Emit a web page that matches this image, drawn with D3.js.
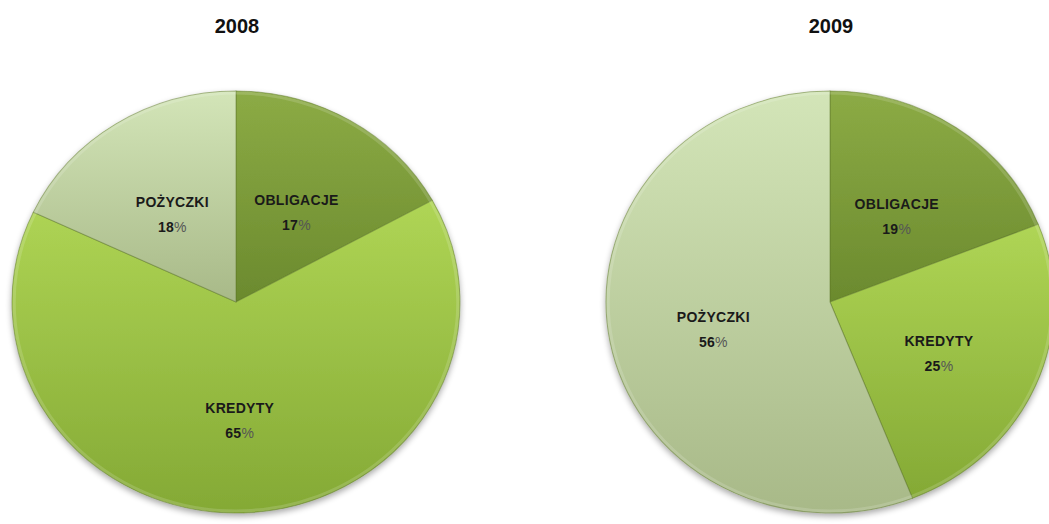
<!DOCTYPE html>
<html>
<head>
<meta charset="utf-8">
<script src="https://cdn.jsdelivr.net/npm/d3@7"></script>
<style>
  html, body { margin: 0; padding: 0; background: #fff; }
  svg { display: block; }
</style>
</head>
<body>
<script>
// Chart data.
const years = ["2008", "2009"];
const categories = ["OBLIGACJE", "KREDYTY", "POŻYCZKI"];
const shares2008 = [17, 65, 18];
const shares2009 = [19, 25, 56];
const sharesByYear = [shares2008, shares2009];

// Layout.
const width = 1049;
const height = 524;
const rx = 224; // pies are a touch wider than tall
const ry = 211;
const cy = 302;
const labelFrac = 0.53;

// Slice shading: [top, bottom] of each gradient.
const shades = {
  "OBLIGACJE": ["#8cab45", "#6b8a2e"],
  "KREDYTY": ["#afd555", "#84a935"],
  "POŻYCZKI": ["#d3e5b8", "#a8b988"],
};

const x = d3.scalePoint().domain(years).range([236, 830]);

const svg = d3.select("body").append("svg")
  .attr("width", width)
  .attr("height", height)
  .attr("font-family", "'Liberation Sans', Arial, sans-serif");

const defs = svg.append("defs");

categories.forEach((c, i) => {
  const g = defs.append("linearGradient")
    .attr("id", `grad-${i}`)
    .attr("x1", 0).attr("y1", 0).attr("x2", 0).attr("y2", 1);
  g.append("stop").attr("offset", "0%").attr("stop-color", shades[c][0]);
  g.append("stop").attr("offset", "100%").attr("stop-color", shades[c][1]);
});

// Soft shadow under the pies.
const shadow = defs.append("filter").attr("id", "shadow")
  .attr("x", "-10%").attr("y", "-10%").attr("width", "120%").attr("height", "125%");
shadow.append("feGaussianBlur").attr("in", "SourceAlpha").attr("stdDeviation", 3);
shadow.append("feOffset").attr("dy", 3).attr("result", "b");
shadow.append("feComponentTransfer").append("feFuncA").attr("type", "linear").attr("slope", 0.35);
const merge = shadow.append("feMerge");
merge.append("feMergeNode");
merge.append("feMergeNode").attr("in", "SourceGraphic");

const pie = d3.pie().sort(null).value((d) => d);
const arc = d3.arc().innerRadius(0).outerRadius(ry);
const labelArc = d3.arc().innerRadius(ry * labelFrac).outerRadius(ry * labelFrac);

years.forEach((year, yi) => {
  const cx = x(year);
  const arcs = pie(sharesByYear[yi]);

  // Title.
  svg.append("text")
    .attr("x", cx + 1)
    .attr("y", 33)
    .attr("text-anchor", "middle")
    .attr("font-size", 20)
    .attr("font-weight", "bold")
    .attr("fill", "#111")
    .text(year);

  // Slices (scaled horizontally to get the slight ellipse).
  const gPie = svg.append("g")
    .attr("transform", `translate(${cx},${cy}) scale(${rx / ry},1)`)
    .attr("filter", "url(#shadow)");

  gPie.selectAll("path")
    .data(arcs)
    .join("path")
    .attr("d", arc)
    .attr("fill", (d, i) => `url(#grad-${i})`)
    .attr("stroke", "#5f7a2c")
    .attr("stroke-opacity", 0.5)
    .attr("stroke-width", 1);

  // Light bevel along the outer rim.
  gPie.append("ellipse")
    .attr("rx", ry - 2).attr("ry", ry - 2)
    .attr("fill", "none")
    .attr("stroke", "#ffffff")
    .attr("stroke-opacity", 0.15)
    .attr("stroke-width", 3);

  // Labels.
  const gLabel = svg.append("g").attr("transform", `translate(${cx},${cy})`);
  const label = gLabel.selectAll("text")
    .data(arcs)
    .join("text")
    .attr("text-anchor", "middle")
    .attr("font-size", 14)
    .attr("font-weight", "bold")
    .attr("letter-spacing", 0.3)
    .attr("fill", "#1a1a1a")
    .attr("transform", (d) => {
      const [px, py] = labelArc.centroid(d);
      return `translate(${px * rx / ry},${py})`;
    });

  label.append("tspan")
    .attr("x", 0)
    .attr("dy", "-0.05em")
    .text((d, i) => categories[i]);

  const pct = label.append("tspan")
    .attr("x", 0)
    .attr("dy", "1.8em")
    .attr("font-weight", "normal");
  pct.append("tspan").attr("font-weight", "bold").text((d) => d.data);
  pct.append("tspan").attr("fill", "#555").text("%");
});
</script>
</body>
</html>
